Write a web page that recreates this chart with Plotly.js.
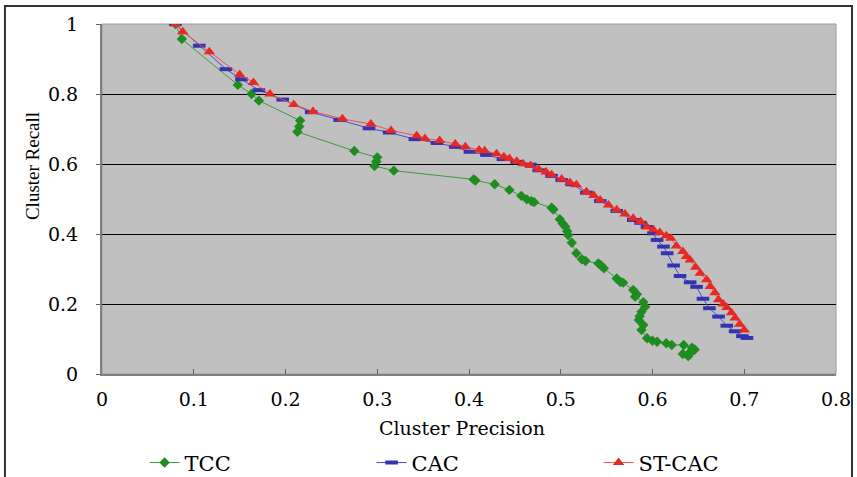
<!DOCTYPE html>
<html>
<head>
<meta charset="utf-8">
<script src="https://cdn.plot.ly/plotly-3.0.1.min.js"></script>
<style>
html,body{margin:0;padding:0;background:#fff;}
#chart{width:857px;height:477px;}
</style>
</head>
<body>
<div id="chart"></div>
<script>
// Series names
const seriesNames = ["TCC", "CAC", "ST-CAC"];

// TCC (green diamonds)
const tccX = [0.080, 0.087, 0.148, 0.163, 0.171, 0.216, 0.215, 0.213, 0.275, 0.300, 0.299, 0.297, 0.318, 0.405, 0.407, 0.428, 0.444, 0.457, 0.463, 0.468, 0.471, 0.490, 0.492, 0.499, 0.502, 0.505, 0.507, 0.508, 0.512, 0.517, 0.523, 0.527, 0.541, 0.544, 0.547, 0.561, 0.565, 0.568, 0.579, 0.583, 0.581, 0.590, 0.592, 0.588, 0.586, 0.585, 0.590, 0.588, 0.594, 0.600, 0.605, 0.615, 0.621, 0.634, 0.643, 0.645, 0.640, 0.633, 0.639, 0.646];
const tccY = [1.000, 0.957, 0.826, 0.800, 0.781, 0.724, 0.707, 0.692, 0.637, 0.619, 0.607, 0.594, 0.581, 0.556, 0.553, 0.542, 0.526, 0.509, 0.499, 0.494, 0.491, 0.475, 0.470, 0.442, 0.430, 0.421, 0.408, 0.397, 0.375, 0.345, 0.328, 0.323, 0.316, 0.310, 0.302, 0.273, 0.263, 0.261, 0.240, 0.228, 0.221, 0.205, 0.192, 0.178, 0.165, 0.154, 0.140, 0.126, 0.102, 0.095, 0.092, 0.088, 0.083, 0.083, 0.075, 0.068, 0.060, 0.057, 0.051, 0.070];

// CAC (blue dashes)
const cacX = [0.080, 0.106, 0.135, 0.152, 0.171, 0.197, 0.228, 0.259, 0.291, 0.313, 0.341, 0.365, 0.385, 0.401, 0.419, 0.437, 0.452, 0.467, 0.476, 0.490, 0.501, 0.512, 0.528, 0.543, 0.561, 0.579, 0.587, 0.594, 0.601, 0.605, 0.612, 0.616, 0.623, 0.630, 0.641, 0.648, 0.655, 0.662, 0.672, 0.681, 0.690, 0.698, 0.703];
const cacY = [1.000, 0.938, 0.871, 0.842, 0.811, 0.784, 0.748, 0.726, 0.702, 0.690, 0.671, 0.660, 0.649, 0.635, 0.626, 0.614, 0.606, 0.598, 0.582, 0.566, 0.554, 0.542, 0.518, 0.494, 0.466, 0.440, 0.432, 0.420, 0.402, 0.383, 0.364, 0.345, 0.310, 0.280, 0.262, 0.249, 0.215, 0.188, 0.164, 0.138, 0.122, 0.108, 0.103];

// ST-CAC (red triangles)
const stX = [0.080, 0.088, 0.117, 0.150, 0.165, 0.183, 0.209, 0.230, 0.262, 0.293, 0.315, 0.343, 0.352, 0.368, 0.385, 0.396, 0.411, 0.417, 0.430, 0.438, 0.444, 0.452, 0.459, 0.467, 0.476, 0.484, 0.490, 0.501, 0.510, 0.517, 0.528, 0.536, 0.543, 0.552, 0.561, 0.570, 0.579, 0.587, 0.594, 0.601, 0.608, 0.615, 0.620, 0.626, 0.633, 0.637, 0.641, 0.647, 0.652, 0.659, 0.663, 0.668, 0.672, 0.677, 0.681, 0.686, 0.690, 0.695, 0.700];
const stY = [1.000, 0.978, 0.921, 0.856, 0.833, 0.800, 0.770, 0.750, 0.729, 0.714, 0.696, 0.681, 0.673, 0.667, 0.657, 0.649, 0.640, 0.638, 0.629, 0.621, 0.616, 0.608, 0.601, 0.596, 0.585, 0.577, 0.569, 0.557, 0.547, 0.541, 0.521, 0.510, 0.497, 0.483, 0.469, 0.457, 0.445, 0.436, 0.420, 0.412, 0.404, 0.395, 0.388, 0.366, 0.350, 0.336, 0.326, 0.305, 0.288, 0.269, 0.250, 0.232, 0.212, 0.200, 0.190, 0.175, 0.160, 0.142, 0.126];

// Axis ticks
const xTicks = [0, 0.1, 0.2, 0.3, 0.4, 0.5, 0.6, 0.7, 0.8];
const yTicks = [0, 0.2, 0.4, 0.6, 0.8, 1];

const FONT = "'DejaVu Serif', serif";
const FONT_NARROW = "'Liberation Serif', 'Times New Roman', serif";

const traces = [
  {
    x: tccX, y: tccY, name: seriesNames[0], type: "scatter", mode: "lines+markers",
    line: {color: "#3a9a3a", width: 1},
    marker: {symbol: "diamond", size: 8, color: "#1f8c1f"}
  },
  {
    x: cacX, y: cacY, name: seriesNames[1], type: "scatter", mode: "lines+markers",
    line: {color: "#4a4ae0", width: 1},
    marker: {symbol: "line-ew-open", size: 9, color: "#3434b0", line: {color: "#3434b0", width: 4}}
  },
  {
    x: stX, y: stY, name: seriesNames[2], type: "scatter", mode: "lines+markers",
    line: {color: "#f05050", width: 1},
    marker: {symbol: "triangle-up", size: 10, color: "#e82822"}
  }
];

const layout = {
  width: 857, height: 477,
  margin: {l: 102, r: 21, t: 24, b: 103, autoexpand: false},
  paper_bgcolor: "#ffffff",
  plot_bgcolor: "#c0c0c0",
  font: {family: FONT, size: 19, color: "#000"},
  showlegend: true,
  legend: {
    orientation: "h", x: 0.058, xanchor: "left", y: -0.254, yanchor: "middle",
    entrywidth: 182, entrywidthmode: "pixels", itemwidth: 30,
    font: {family: FONT, size: 21, color: "#000"},
    bgcolor: "rgba(0,0,0,0)"
  },
  xaxis: {
    range: [0, 0.8], tickvals: xTicks, ticktext: xTicks.map(v => String(v)),
    showgrid: false, zeroline: false,
    showline: true, linecolor: "#808080", linewidth: 2,
    ticks: "inside", ticklen: 5, tickcolor: "#606060", tickwidth: 1,
    ticklabelstandoff: 7,
    tickfont: {family: FONT, size: 19, color: "#000"},
    fixedrange: true
  },
  yaxis: {
    range: [0, 1], tickvals: yTicks, ticktext: yTicks.map(v => String(v)),
    showgrid: true, gridcolor: "#000000", gridwidth: 1,
    zeroline: false,
    showline: true, linecolor: "#808080", linewidth: 2,
    ticks: "outside", ticklen: 4, tickcolor: "#606060", tickwidth: 1,
    ticklabelstandoff: 14,
    tickfont: {family: FONT, size: 19, color: "#000"},
    fixedrange: true
  },
  annotations: [
    {text: "Cluster Precision", xref: "paper", yref: "paper", x: 0.491, y: -0.154,
     showarrow: false, xanchor: "center", yanchor: "middle",
     font: {family: FONT, size: 19, color: "#000"}},
    {text: "Cluster Recall", xref: "paper", yref: "paper", x: -0.0954, y: 0.594,
     showarrow: false, xanchor: "center", yanchor: "middle", textangle: -90,
     font: {family: FONT_NARROW, size: 19, color: "#000"}}
  ],
  shapes: [
    {type: "rect", xref: "paper", yref: "paper", x0: 0, x1: 1, y0: 0, y1: 1,
     line: {color: "#9a9a9a", width: 1}, fillcolor: "rgba(0,0,0,0)", layer: "below"},
    {type: "rect", xref: "paper", yref: "paper", x0: -0.1322, x1: 1.0218, y0: -0.32, y1: 1.0514,
     line: {color: "#333333", width: 2}, fillcolor: "rgba(0,0,0,0)"}
  ]
};

Plotly.newPlot("chart", traces, layout, {displayModeBar: false, staticPlot: true});
</script>
</body>
</html>
